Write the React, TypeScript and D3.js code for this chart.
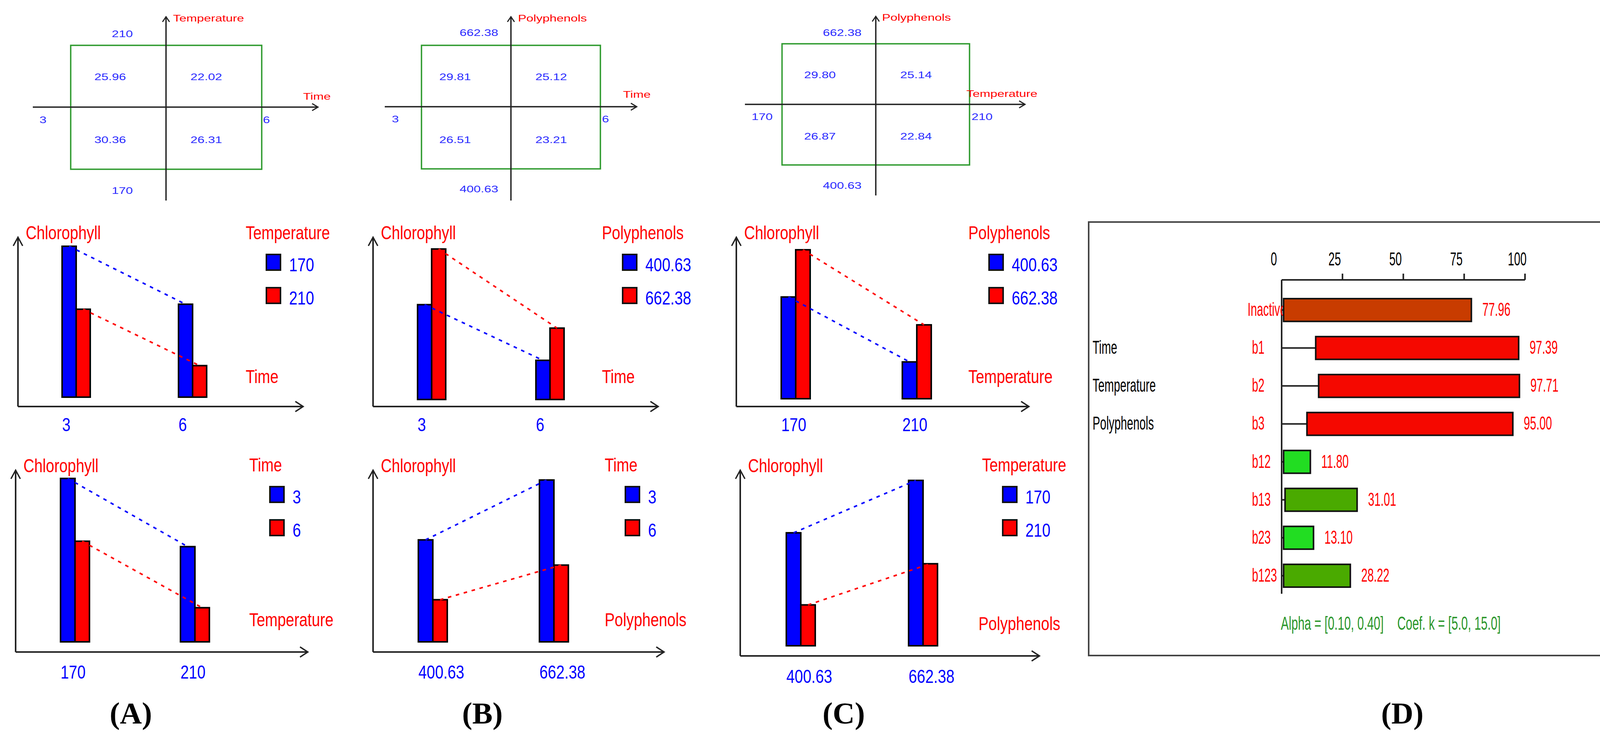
import React from 'react'
import * as d3 from 'd3'

// factor levels
const timeLevels = ['3', '6']
const tempLevels = ['170', '210']
const polyLevels = ['400.63', '662.38']

// chlorophyll means: [level of first factor][level of second factor]
const timeTemp = [[30.36, 25.96], [26.31, 22.02]]
const timePoly = [[26.51, 29.81], [23.21, 25.12]]
const tempPoly = [[26.87, 29.8], [22.84, 25.14]]

// panel D: effect bars
const effectNames = ['Inactivo', 'b1', 'b2', 'b3', 'b12', 'b13', 'b23', 'b123']
const effectValues = [77.96, 97.39, 97.71, 95.0, 11.8, 31.01, 13.1, 28.22]
const effectStarts = [0.8, 14.0, 15.2, 10.4, 0.8, 1.4, 0.8, 0.8]
const effectFactors = ['', 'Time', 'Temperature', 'Polyphenols', '', '', '', '']
const effectTicks = [0, 25, 50, 75, 100]

const RED = '#ff0000'
const BLUE = '#0000ff'
const TXT_BLUE = '#2a2aff'
const GREEN_BOX = '#2e9a2e'
const SANS = '"Liberation Sans", Arial, sans-serif'

type TProps = {
  x: number
  y: number
  size: number
  sx?: number
  fill?: string
  anchor?: 'start' | 'middle' | 'end'
  children: React.ReactNode
}

// text squeezed or stretched horizontally, like the screenshot fonts
const T = ({ x, y, size, sx = 1, fill = '#000', anchor = 'start', children }: TProps) => (
  <text
    transform={`translate(${x},${y}) scale(${sx},1)`}
    fontSize={size}
    fontFamily={SANS}
    fill={fill}
    textAnchor={anchor}
  >
    {children}
  </text>
)

type QLayout = {
  vx: number; hy: number; vTop: number; vBot: number; hLeft: number; hRight: number
  box: [number, number, number, number]
  vLabX: number; vHighY: number; vLowY: number
  hLowX: number; hHighX: number; hLabY: number
  vNameX: number; vNameY: number; hNameX: number; hNameY: number
  cellY: [number, number]
}

const Quadrant = ({ L, hLevels, vLevels, hName, vName, m }: {
  L: QLayout; hLevels: string[]; vLevels: string[]; hName: string; vName: string; m: number[][]
}) => {
  const fs = 24
  const sx = 1.35
  const cx = d3.scalePoint<string>().domain(hLevels).range([L.vx - 143, L.vx + 103])
  const cy = d3.scalePoint<string>().domain(vLevels).range([L.cellY[1], L.cellY[0]])
  const [x0, y0, x1, y1] = L.box
  return (
    <g>
      <rect x={x0} y={y0} width={x1 - x0} height={y1 - y0} fill="none" stroke={GREEN_BOX} strokeWidth={3.5} />
      <line x1={L.hLeft} y1={L.hy} x2={L.hRight} y2={L.hy} stroke="#222" strokeWidth={3.5} />
      <path d={`M${L.hRight - 15},${L.hy - 9} L${L.hRight},${L.hy} L${L.hRight - 15},${L.hy + 9}`} fill="none" stroke="#222" strokeWidth={3} />
      <line x1={L.vx} y1={L.vBot} x2={L.vx} y2={L.vTop} stroke="#222" strokeWidth={3.5} />
      <path d={`M${L.vx - 9},${L.vTop + 13} L${L.vx},${L.vTop} L${L.vx + 9},${L.vTop + 13}`} fill="none" stroke="#222" strokeWidth={3} />
      <T x={L.vNameX} y={L.vNameY} size={fs} sx={sx} fill={RED}>{vName}</T>
      <T x={L.hNameX} y={L.hNameY} size={fs} sx={sx} fill={RED}>{hName}</T>
      <T x={L.vLabX} y={L.vHighY} size={fs} sx={sx} fill={TXT_BLUE} anchor="middle">{vLevels[1]}</T>
      <T x={L.vLabX} y={L.vLowY} size={fs} sx={sx} fill={TXT_BLUE} anchor="middle">{vLevels[0]}</T>
      <T x={L.hLowX} y={L.hLabY} size={fs} sx={sx} fill={TXT_BLUE} anchor="middle">{hLevels[0]}</T>
      <T x={L.hHighX} y={L.hLabY} size={fs} sx={sx} fill={TXT_BLUE} anchor="middle">{hLevels[1]}</T>
      {hLevels.map((h, i) =>
        vLevels.map((v, j) => (
          <T key={h + v} x={cx(h)!} y={cy(v)!} size={fs} sx={sx} fill={TXT_BLUE} anchor="middle">
            {m[i][j].toFixed(2)}
          </T>
        ))
      )}
    </g>
  )
}

type BLayout = {
  ax: number; axTop: number; axY: number; axRight: number
  barBottom: number; barTop: number; g: [number, number]; bw: number
  xLabY: number; legX: number; legY: number; nameX: number; nameY: number
}

const InteractionBars = ({ L, groups, series, seriesName, groupName, value }: {
  L: BLayout; groups: string[]; series: string[]; seriesName: string; groupName: string
  value: (g: number, s: number) => number
}) => {
  const fs = 48
  const sx = 0.8
  const all = groups.flatMap((_, gi) => series.map((_, si) => value(gi, si)))
  const y = d3.scaleLinear().domain([0.9 * d3.min(all)!, d3.max(all)!]).range([L.barBottom, L.barTop])
  const x = d3.scalePoint<string>().domain(groups).range(L.g)
  const colors = [BLUE, RED]
  const line = d3.line<[number, number]>()
  return (
    <g>
      <line x1={L.ax} y1={L.axY} x2={L.ax} y2={L.axTop} stroke="#222" strokeWidth={4} />
      <path d={`M${L.ax - 12},${L.axTop + 22} L${L.ax},${L.axTop} L${L.ax + 12},${L.axTop + 22}`} fill="none" stroke="#222" strokeWidth={3.5} />
      <line x1={L.ax} y1={L.axY} x2={L.axRight} y2={L.axY} stroke="#222" strokeWidth={4} />
      <path d={`M${L.axRight - 20},${L.axY - 13} L${L.axRight},${L.axY} L${L.axRight - 20},${L.axY + 13}`} fill="none" stroke="#222" strokeWidth={3.5} />
      <T x={L.ax + 20} y={L.axTop + 5} size={fs} sx={sx} fill={RED}>Chlorophyll</T>
      {groups.map((g, gi) =>
        series.map((s, si) => {
          const v = value(gi, si)
          return (
            <rect key={g + s} x={x(g)! + si * L.bw} y={y(v)} width={L.bw} height={L.barBottom - y(v)}
              fill={colors[si]} stroke="#000" strokeWidth={4} />
          )
        })
      )}
      {series.map((s, si) => (
        <path key={'l' + s}
          d={line(groups.map((g, gi) => [x(g)! + si * L.bw + L.bw / 2, y(value(gi, si))]))!}
          fill="none" stroke={colors[si]} strokeWidth={4} strokeDasharray="9,12" />
      ))}
      {groups.map((g) => (
        <T key={'t' + g} x={x(g)!} y={L.xLabY} size={fs} sx={sx} fill={BLUE}>{g}</T>
      ))}
      <T x={L.legX} y={L.legY} size={fs} sx={sx} fill={RED}>{seriesName}</T>
      {series.map((s, si) => (
        <g key={'k' + s}>
          <rect x={L.legX + 53} y={L.legY + 39 + si * 85} width={36} height={40} fill={colors[si]} stroke="#111" strokeWidth={4} />
          <T x={L.legX + 111} y={L.legY + 82 + si * 85} size={fs} sx={sx} fill={BLUE}>{s}</T>
        </g>
      ))}
      <T x={L.nameX} y={L.nameY} size={fs} sx={sx} fill={RED}>{groupName}</T>
    </g>
  )
}

const EffectsPanel = () => {
  const fs = 48
  const sx = 0.6
  const left = 3281
  const x = d3.scaleLinear().domain([0, 100]).range([left, 3904])
  const y = d3.scaleBand<string>().domain(effectNames).range([764, 1502]).paddingInner(0.4).paddingOuter(0)
  const axY = 716
  const fills = ['#c83c00', '#f50800', '#f50800', '#f50800', '#22dd22', '#4aaa00', '#22dd22', '#4aaa00']
  return (
    <g>
      <rect x={2787} y={568} width={4268 - 2787} height={1677 - 568} fill="#fff" stroke="#444" strokeWidth={4} />
      <line x1={left} y1={axY} x2={x(100)} y2={axY} stroke="#222" strokeWidth={4} />
      <line x1={left} y1={axY} x2={left} y2={1519} stroke="#222" strokeWidth={4} />
      {effectTicks.map((t) => (
        <g key={t}>
          {t > 0 && <line x1={x(t)} y1={axY} x2={x(t)} y2={axY - 16} stroke="#222" strokeWidth={4} />}
          <T x={x(t) - 20} y={679} size={fs} sx={sx} anchor="middle">{String(t)}</T>
        </g>
      ))}
      {effectNames.map((n, i) => {
        const yc = y(n)! + y.bandwidth() / 2
        const base = yc + 15
        return (
          <g key={n}>
            {i === 0 ? (
              <T x={left + 12} y={base} size={fs} sx={sx} fill={RED} anchor="end">{n}</T>
            ) : (
              <T x={3205} y={base} size={fs} sx={sx} fill={RED}>{n}</T>
            )}
            {effectFactors[i] && <T x={2797} y={base} size={fs} sx={sx}>{effectFactors[i]}</T>}
            <line x1={left} y1={yc} x2={x(effectStarts[i])} y2={yc} stroke="#222" strokeWidth={4} />
            <rect x={x(effectStarts[i])} y={y(n)} width={x(effectValues[i]) - x(effectStarts[i])}
              height={y.bandwidth()} fill={fills[i]} stroke="#111" strokeWidth={4} />
            <T x={x(effectValues[i]) + 28} y={base} size={fs} sx={sx} fill={RED}>{effectValues[i].toFixed(2)}</T>
          </g>
        )
      })}
      <T x={3279} y={1611} size={fs} sx={0.63} fill="#2a962a">Alpha = [0.10, 0.40]</T>
      <T x={3577} y={1611} size={fs} sx={0.63} fill="#2a962a">Coef. k = [5.0, 15.0]</T>
    </g>
  )
}

const qA: QLayout = {
  vx: 425, hy: 274, vTop: 43, vBot: 513, hLeft: 84, hRight: 814, box: [181, 116, 670, 433],
  vLabX: 313, vHighY: 95, vLowY: 496, hLowX: 110, hHighX: 682, hLabY: 315,
  vNameX: 443, vNameY: 55, hNameX: 776, hNameY: 255, cellY: [205, 366],
}
const qB: QLayout = {
  vx: 1308, hy: 273, vTop: 43, vBot: 513, hLeft: 985, hRight: 1630, box: [1079, 116, 1537, 432],
  vLabX: 1226, vHighY: 92, vLowY: 492, hLowX: 1012, hHighX: 1550, hLabY: 313,
  vNameX: 1326, vNameY: 55, hNameX: 1595, hNameY: 250, cellY: [205, 366],
}
const qC: QLayout = {
  vx: 2242, hy: 267, vTop: 42, vBot: 500, hLeft: 1907, hRight: 2624, box: [2002, 112, 2482, 422],
  vLabX: 2156, vHighY: 92, vLowY: 483, hLowX: 1951, hHighX: 2514, hLabY: 307,
  vNameX: 2258, vNameY: 53, hNameX: 2474, hNameY: 248, cellY: [200, 357],
}

const bAm: BLayout = { ax: 46, axTop: 607, axY: 1040, axRight: 776, barBottom: 1016, barTop: 630, g: [159, 457], bw: 36, xLabY: 1103, legX: 629, legY: 612, nameX: 629, nameY: 980 }
const bAb: BLayout = { ax: 40, axTop: 1203, axY: 1668, axRight: 788, barBottom: 1642, barTop: 1224, g: [155, 462], bw: 37, xLabY: 1736, legX: 638, legY: 1206, nameX: 638, nameY: 1602 }
const bBm: BLayout = { ax: 955, axTop: 607, axY: 1040, axRight: 1685, barBottom: 1022, barTop: 637, g: [1069, 1372], bw: 36, xLabY: 1103, legX: 1541, legY: 612, nameX: 1541, nameY: 980 }
const bBb: BLayout = { ax: 955, axTop: 1203, axY: 1668, axRight: 1700, barBottom: 1642, barTop: 1228, g: [1071, 1381], bw: 37, xLabY: 1736, legX: 1548, legY: 1206, nameX: 1548, nameY: 1602 }
const bCm: BLayout = { ax: 1885, axTop: 607, axY: 1040, axRight: 2634, barBottom: 1020, barTop: 639, g: [2000, 2310], bw: 37, xLabY: 1103, legX: 2479, legY: 612, nameX: 2479, nameY: 980 }
const bCb: BLayout = { ax: 1895, axTop: 1203, axY: 1678, axRight: 2661, barBottom: 1652, barTop: 1229, g: [2013, 2326], bw: 37, xLabY: 1747, legX: 2514, legY: 1206, nameX: 2505, nameY: 1612 }

const panelLabels = ['(A)', '(B)', '(C)', '(D)']
const panelLabelX = [335, 1235, 2160, 3590]

export default function App() {
  return (
    <svg width={4291} height={1888} viewBox="0 0 4291 1888"
      style={{ position: 'absolute', left: 0, top: 0, background: '#fff' }}>
      <rect width={4291} height={1888} fill="#fff" />
      <Quadrant L={qA} hLevels={timeLevels} vLevels={tempLevels} hName="Time" vName="Temperature" m={timeTemp} />
      <Quadrant L={qB} hLevels={timeLevels} vLevels={polyLevels} hName="Time" vName="Polyphenols" m={timePoly} />
      <Quadrant L={qC} hLevels={tempLevels} vLevels={polyLevels} hName="Temperature" vName="Polyphenols" m={tempPoly} />

      <InteractionBars L={bAm} groups={timeLevels} series={tempLevels} seriesName="Temperature" groupName="Time" value={(g, s) => timeTemp[g][s]} />
      <InteractionBars L={bAb} groups={tempLevels} series={timeLevels} seriesName="Time" groupName="Temperature" value={(g, s) => timeTemp[s][g]} />
      <InteractionBars L={bBm} groups={timeLevels} series={polyLevels} seriesName="Polyphenols" groupName="Time" value={(g, s) => timePoly[g][s]} />
      <InteractionBars L={bBb} groups={polyLevels} series={timeLevels} seriesName="Time" groupName="Polyphenols" value={(g, s) => timePoly[s][g]} />
      <InteractionBars L={bCm} groups={tempLevels} series={polyLevels} seriesName="Polyphenols" groupName="Temperature" value={(g, s) => tempPoly[g][s]} />
      <InteractionBars L={bCb} groups={polyLevels} series={tempLevels} seriesName="Temperature" groupName="Polyphenols" value={(g, s) => tempPoly[s][g]} />

      <EffectsPanel />

      {panelLabels.map((l, i) => (
        <text key={l} x={panelLabelX[i]} y={1851} fontSize={78} fontWeight="bold"
          fontFamily='"Liberation Serif", "Times New Roman", serif' textAnchor="middle">{l}</text>
      ))}
    </svg>
  )
}
